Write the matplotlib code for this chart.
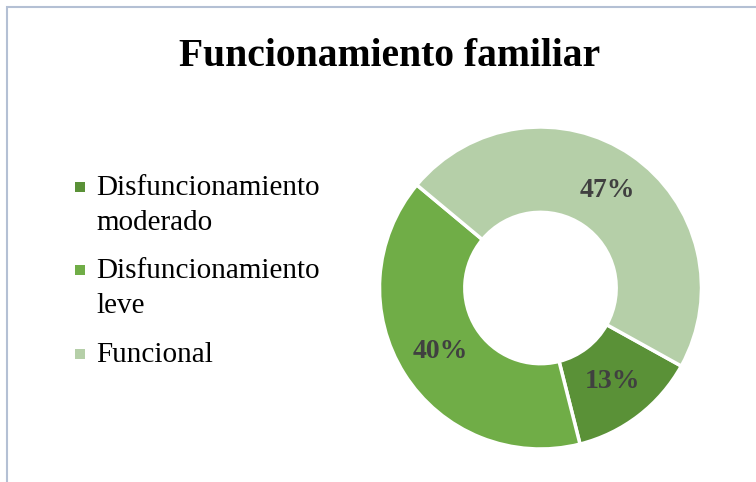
import numpy as np
import matplotlib.pyplot as plt
from matplotlib.patches import Rectangle

categories = ["Disfuncionamiento\nmoderado", "Disfuncionamiento\nleve", "Funcional"]
values = [13, 40, 47]
colors = ["#5A9137", "#70AD47", "#B5CFA8"]
title = "Funcionamiento familiar"

plt.rcParams['font.family'] = ['Liberation Serif', 'DejaVu Serif']

W, H = 756, 482
fig = plt.figure(figsize=(W / 100, H / 100), dpi=100)

# chart border (only left and top edges are visible in the crop)
fig.add_artist(Rectangle((7 / W, -0.1), 1.2, (1 - 7 / H) + 0.1, transform=fig.transFigure,
                         fill=False, edgecolor="#B4C0D4", linewidth=1.5))

fig.text(390 / W, 1 - 66 / H, title, ha='center', va='baseline',
         fontsize=28.5, fontweight='bold')

# donut
cx, cy, r = 540.5, 288, 161
ax = fig.add_axes([(cx - r) / W, 1 - (cy + r) / H, 2 * r / W, 2 * r / H])
ax.pie(values, colors=colors, startangle=-29, counterclock=False, radius=1,
       wedgeprops=dict(width=0.53, edgecolor='white', linewidth=2.5))
ax.set_xlim(-1, 1)
ax.set_ylim(-1, 1)
ax.set_aspect('equal')

ang = -29
for v in values:
    mid = np.deg2rad(ang - v * 3.6 / 2)
    ax.text(0.735 * np.cos(mid), 0.735 * np.sin(mid), f"{v}%", ha='center', va='center',
            fontsize=20, fontweight='bold', color='#404040')
    ang -= v * 3.6

# legend drawn by hand so the marker sits on the first line
baselines = [195, 278, 362]
for lab, col, yb in zip(categories, colors, baselines):
    fig.add_artist(Rectangle((75 / W, 1 - (yb - 3) / H), 10 / W, 10 / H,
                             transform=fig.transFigure, facecolor=col, edgecolor='none'))
    for i, line in enumerate(lab.split("\n")):
        fig.text(96 / W, 1 - (yb + 35 * i) / H, line, ha='left', va='baseline', fontsize=21)

fig.savefig("out.png", dpi=100)
